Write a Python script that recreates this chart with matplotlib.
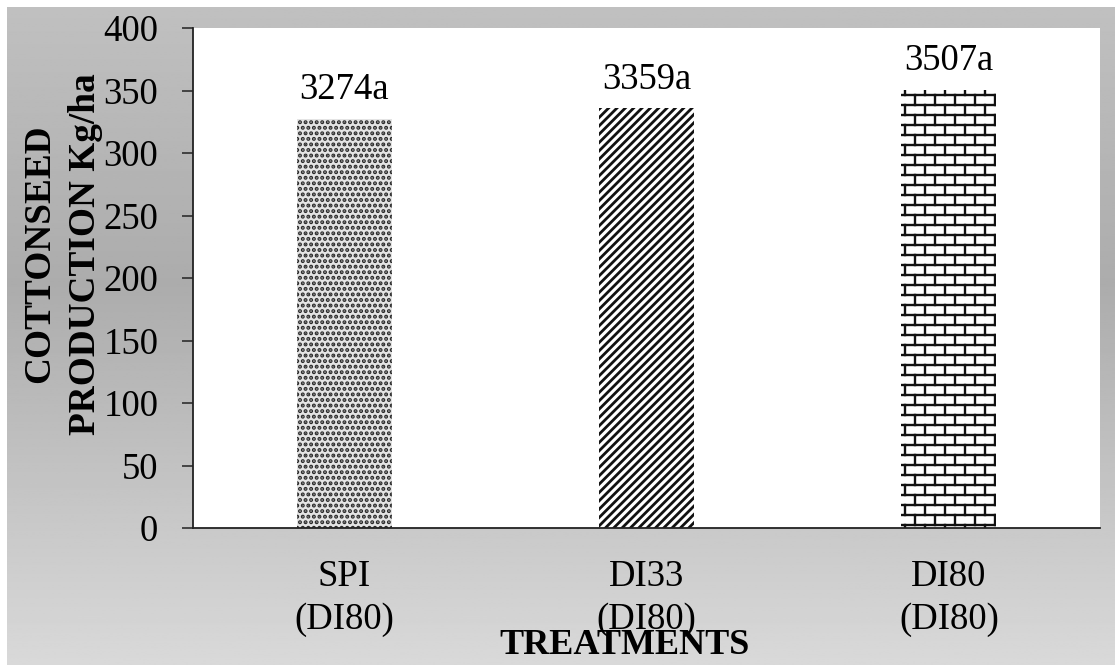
import warnings
import numpy as np
import matplotlib
matplotlib.use("Agg")
import matplotlib.pyplot as plt
from matplotlib import hatch as mhatch
from matplotlib.path import Path

warnings.filterwarnings("ignore", message="hatch must consist")

treatments = ["SPI\n(DI80)", "DI33\n(DI80)", "DI80\n(DI80)"]
production = [327.4, 335.9, 350.7]
value_labels = ["3274a", "3359a", "3507a"]
yticks = [0, 50, 100, 150, 200, 250, 300, 350, 400]

hatches = ["...", "////", "b"]
hatch_colors = ["#2a2a2a", "#111111", "#111111"]
hatch_widths = [2.0, 2.0, 1.7]
face_colors = ["#e4e4e4", "white", "white"]


class BrickHatch(mhatch.HatchPatternBase):
    """Staggered brick wall, selected with the 'b' hatch character."""

    def __init__(self, hatch, density):
        n = hatch.count("b")
        self.rows = 10 * n
        self.cols = 5 * n
        self.num_vertices = (self.rows * 2 + (self.rows + 1) * self.cols * 2) if n else 0

    def set_vertices_and_codes(self, vertices, codes):
        h = 1.0 / self.rows
        w = 1.0 / self.cols
        segs = []
        for k in range(self.rows):
            y = (k + 0.5) * h
            segs.append(((0.0, y), (1.0, y)))
        for k in range(-1, self.rows):
            y0 = max((k + 0.5) * h, 0.0)
            y1 = min((k + 1.5) * h, 1.0)
            shift = 0.5 * (k % 2)
            for j in range(self.cols):
                x = (j + 0.25 + shift) * w
                segs.append(((x, y0), (x, y1)))
        vertices[:] = np.array(segs).reshape(-1, 2)
        codes[0::2] = Path.MOVETO
        codes[1::2] = Path.LINETO


mhatch._hatch_types.append(BrickHatch)

plt.rcParams["font.family"] = ["Liberation Serif", "DejaVu Serif"]

fig = plt.figure(figsize=(11.15, 6.66), dpi=100, facecolor="white")

# grey gradient panel behind the chart
bg = fig.add_axes([7 / 1115, 1 / 666, 1108 / 1115, 658 / 666], zorder=-2)
t = np.linspace(0, 1, 400)
shade = np.interp(t, [0.0, 0.42, 1.0], [192, 172, 217]) / 255.0
bg.imshow(np.repeat(shade[:, None], 2, axis=1), cmap="gray", vmin=0, vmax=1,
          aspect="auto", extent=[0, 1, 0, 1], origin="upper")
bg.set_axis_off()

ax = fig.add_axes([193 / 1115, 1 - 528 / 666, 907 / 1115, 500 / 666])
ax.set_facecolor("white")

x = np.arange(len(treatments))
bars = ax.bar(x, production, width=0.315, linewidth=0)
for i, patch in enumerate(bars.patches):
    patch.set_facecolor(face_colors[i])
    patch.set_edgecolor(hatch_colors[i])
    patch.set_linewidth(0)
    patch.set_hatch(hatches[i])
    if hasattr(patch, "set_hatch_linewidth"):
        patch.set_hatch_linewidth(hatch_widths[i])

for xi, val, lab in zip(x, production, value_labels):
    ax.annotate(lab, (xi, val), xytext=(0, 14), textcoords="offset points",
                ha="center", va="baseline", fontsize=26.5)

ax.set_xlim(-0.5, len(treatments) - 0.5)
ax.set_ylim(0, 400)
ax.set_yticks(yticks)
ax.set_xticks(x)
ax.set_xticklabels(treatments, fontsize=26.5, linespacing=1.3)
ax.tick_params(axis="y", labelsize=26.5, length=8, width=1.1, pad=17, color="#222222")
ax.tick_params(axis="x", length=0, pad=23)

for side in ["top", "right"]:
    ax.spines[side].set_visible(False)
for side in ["left", "bottom"]:
    ax.spines[side].set_linewidth(1.3)
    ax.spines[side].set_color("#222222")

fig.text(63 / 1115, 1 - 254 / 666, "COTTONSEED\nPRODUCTION Kg/ha", rotation=90,
         ha="center", va="center", multialignment="center", fontsize=26.8,
         fontweight="bold", linespacing=1.4)
fig.text(625 / 1115, 1 - 645 / 666, "TREATMENTS", ha="center", va="center",
         fontsize=26, fontweight="bold")

fig.savefig("out.png", dpi=100, facecolor=fig.get_facecolor())
